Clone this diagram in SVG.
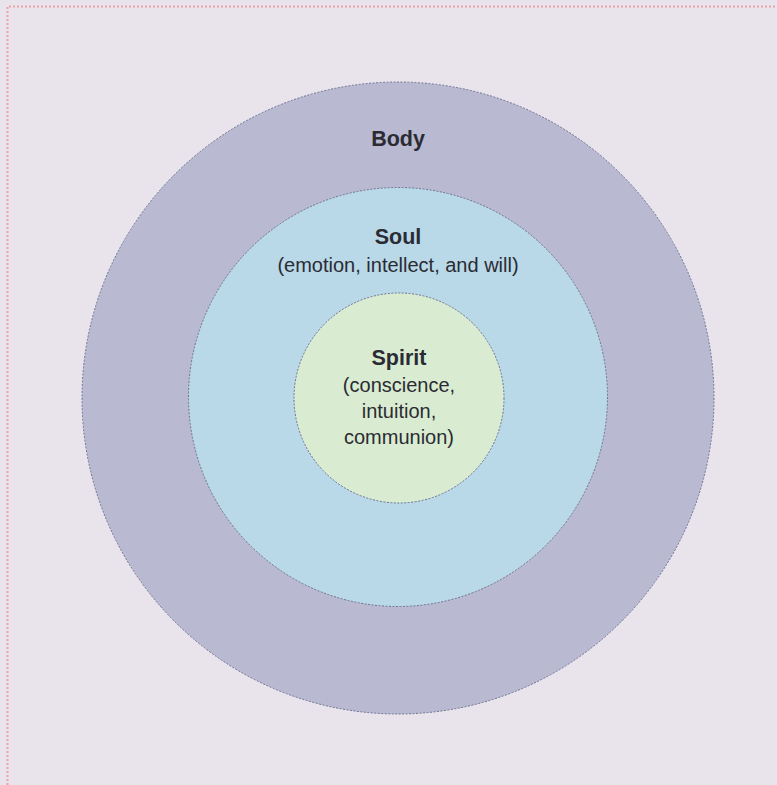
<svg xmlns="http://www.w3.org/2000/svg" width="777" height="785" viewBox="0 0 777 785">
<style>
.ring{stroke:#6f7391;stroke-width:1;stroke-dasharray:2 1.5}
.t{font-family:"Liberation Sans",Arial,sans-serif;fill:#2b2b33;text-anchor:middle}
.b{font-weight:bold;font-size:21.5px}
.r{font-size:20px}
</style>
<rect x="0" y="0" width="777" height="785" fill="#e9e4ec"/>
<path d="M7.5 785 V6.5 H777" fill="none" stroke="#e8a4a8" stroke-width="2" stroke-dasharray="2 2"/>
<g id="body">
<circle class="ring" cx="398" cy="398" r="316" fill="#b9bad2"/>
<text class="t b" x="398" y="146">Body</text>
</g>
<g id="soul">
<circle class="ring" cx="398" cy="397" r="209.5" fill="#b9d8e8"/>
<text class="t b" x="398" y="244">Soul</text>
<text class="t r" x="398" y="272">(emotion, intellect, and will)</text>
</g>
<g id="spirit">
<circle class="ring" cx="399" cy="398" r="105" fill="#d9ecd1"/>
<text class="t b" x="399" y="365">Spirit</text>
<text class="t r" x="399" y="392">(conscience,</text>
<text class="t r" x="399" y="418">intuition,</text>
<text class="t r" x="399" y="444">communion)</text>
</g>
</svg>
